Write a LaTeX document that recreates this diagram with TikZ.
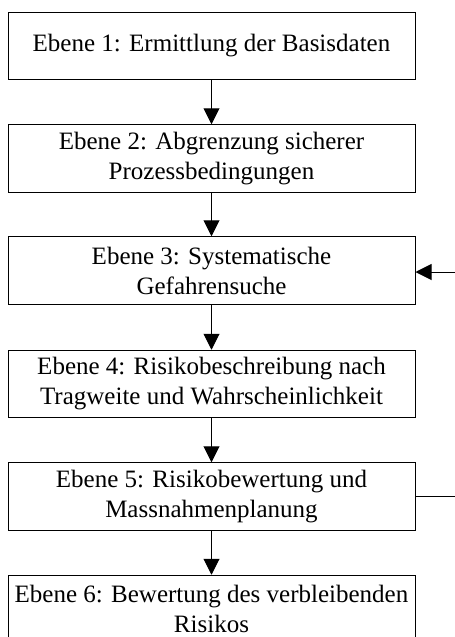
\documentclass[tikz,border=0pt]{standalone}
\usepackage{fontspec}
\setmainfont{Liberation Serif}
\usetikzlibrary{arrows.meta}
\begin{document}
\begin{tikzpicture}[
    x=0.5pt,
    y=-0.5pt,
    every node/.style={font=\fontsize{12.5}{15}\selectfont},
    stage/.style={draw=black, line width=0.5pt, fill=white, align=center, minimum width=203.5pt, minimum height=33.75pt, inner sep=0pt},
    flow/.style={draw=black, line width=0.5pt, -{Triangle[length=8pt, width=8pt]}},
    loopline/.style={draw=black, line width=0.5pt}
]
    \clip (0,0) rectangle (455,637);

    \coordinate (s1) at (211.5, 46);
    \coordinate (s2) at (211.5, 158.5);
    \coordinate (s3) at (211.5, 270.5);
    \coordinate (s4) at (211.5, 384);
    \coordinate (s5) at (211.5, 496.5);
    \coordinate (s6) at (211.5, 609);

    \coordinate (back5) at (455, 496.5);
    \coordinate (back3) at (455, 272);

    \node[stage] (e1) at (s1) {Ebene 1: Ermittlung der Basisdaten};
    \node[stage] (e2) at (s2) {Ebene 2: Abgrenzung sicherer\\Prozessbedingungen};
    \node[stage] (e3) at (s3) {Ebene 3: Systematische\\Gefahrensuche};
    \node[stage] (e4) at (s4) {Ebene 4: Risikobeschreibung nach\\Tragweite und Wahrscheinlichkeit};
    \node[stage] (e5) at (s5) {Ebene 5: Risikobewertung und\\Massnahmenplanung};
    \node[stage] (e6) at (s6) {Ebene 6: Bewertung des verbleibenden\\Risikos};

    \foreach \a/\b in {1/2, 2/3, 3/4, 4/5, 5/6}{
        \draw[flow] (e\a) -- (e\b);
    }

    % Rueckkopplung
    \draw[loopline] (e5.east) -- (back5);
    \draw[flow] (back3) -- (back3 -| e3.east);

\end{tikzpicture}
\end{document}
